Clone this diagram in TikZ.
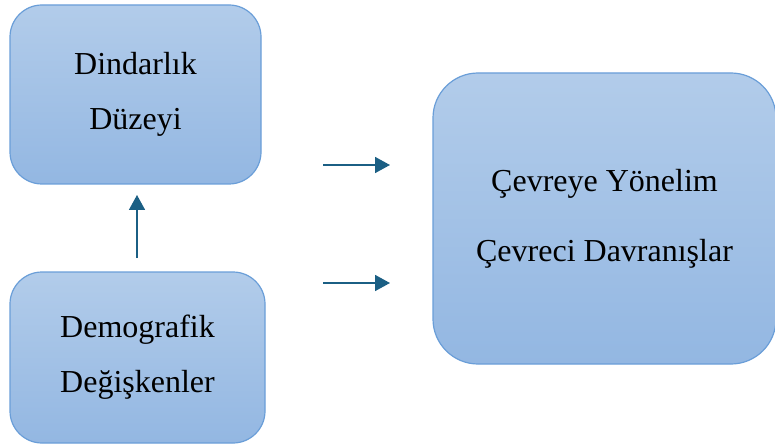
\documentclass[tikz,border=0pt]{standalone}
\usepackage{fontspec}
\setmainfont{Liberation Serif}
\usepackage{xcolor}
\usepackage{tikz}
\usetikzlibrary{arrows.meta}
\usetikzlibrary{positioning}

\definecolor{boxtop}{HTML}{B2CCEA}
\definecolor{boxbot}{HTML}{93B7E2}
\definecolor{boxline}{HTML}{6A9ED8}
\definecolor{arrowblue}{HTML}{1B5F84}

\tikzset{
  box/.style={rectangle, draw=boxline, line width=1.2pt, top color=boxtop, bottom color=boxbot, align=center, inner sep=0pt, font=\fontsize{32}{55}\selectfont},
  link/.style={-{Triangle[length=15pt,width=16pt]}, draw=arrowblue, fill=arrowblue, line width=1.6pt}
}

\begin{document}
\begin{tikzpicture}[x=1pt, y=-1pt]
\useasboundingbox (0,0) rectangle (775,446);
\node [box, rounded corners=32pt, minimum width=251pt, minimum height=179pt] (Din) at (135.5, 94.5) {Dindarlık\\Düzeyi};
\node [box, rounded corners=32pt, minimum width=255pt, minimum height=171pt] (Dem) at (137.5, 357.5) {Demografik\\Değişkenler};
\node [box, rounded corners=45pt, minimum width=343pt, minimum height=291pt, font=\fontsize{32}{70}\selectfont] (Cev) at (604.5, 218.5) {Çevreye Yönelim\\Çevreci Davranışlar};
\coordinate (A1) at (323, 165);
\coordinate (A2) at (390, 165);
\coordinate (B1) at (323, 283);
\coordinate (B2) at (390, 283);
\coordinate (V1) at (137, 258);
\coordinate (V2) at (137, 195);
\draw [link] (A1) to (A2);
\draw [link] (B1) to (B2);
\draw [link] (V1) to (V2);
\end{tikzpicture}
\end{document}
